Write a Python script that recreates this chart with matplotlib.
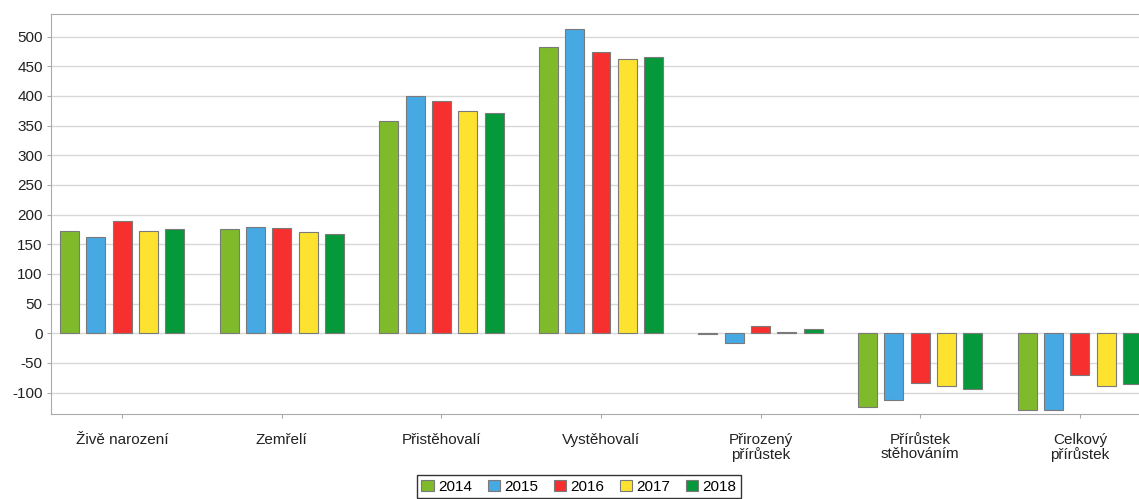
import matplotlib.pyplot as plt
import numpy as np

plt.rcParams['font.family'] = ['Liberation Sans', 'DejaVu Sans']
plt.rcParams['axes.unicode_minus'] = False

categories = ['Živě narození', 'Zemřelí', 'Přistěhovalí', 'Vystěhovalí',
              'Přirozený\npřírůstek', 'Přírůstek\nstěhováním', 'Celkový\npřírůstek']
years = ['2014', '2015', '2016', '2017', '2018']
v2014 = [173, 175, 358, 483, -2, -125, -129]
v2015 = [162, 179, 400, 513, -17, -113, -130]
v2016 = [190, 178, 391, 474, 12, -83, -71]
v2017 = [173, 171, 374, 463, 2, -89, -88]
v2018 = [175, 168, 371, 465, 7, -94, -86]
colors = ['#7fba2b', '#47a9e3', '#f7302f', '#fde330', '#06993b']

series = [v2014, v2015, v2016, v2017, v2018]

fig = plt.figure(figsize=(11.39, 4.99), dpi=100)
ax = fig.add_axes([51/1139, 85/499, 1100/1139, 400/499])

x = np.arange(len(categories))
step = 0.165
for i, (vals, c, yr) in enumerate(zip(series, colors, years)):
    ax.bar(x + (i - 2) * step, vals, width=0.119, color=c, edgecolor='#7a7a7a',
           linewidth=0.8, label=yr, zorder=3)

ax.set_xlim(-0.445, 6.445)
ax.set_ylim(-136, 538)
ax.set_yticks(np.arange(-100, 501, 50))
ax.set_xticks(x)
ax.set_xticklabels(categories, fontsize=11, color='#222222', linespacing=1.0)
ax.tick_params(axis='y', labelsize=11, labelcolor='#222222', length=3, color='#aaaaaa', pad=3)
ax.tick_params(axis='x', length=3, color='#aaaaaa', pad=11)
ax.yaxis.grid(True, color='#d8d8d8', linewidth=1, zorder=0)
for s in ['left', 'bottom', 'top']:
    ax.spines[s].set_color('#aaaaaa')
ax.spines['right'].set_visible(False)

leg = ax.legend(loc='upper center', bbox_to_anchor=(579/1139, 24/499),
                bbox_transform=fig.transFigure, ncol=5, fontsize=11,
                frameon=True, fancybox=False, handlelength=0.8, handleheight=0.8,
                handletextpad=0.3, columnspacing=1.0, borderpad=0.3,
                borderaxespad=0)
leg.get_frame().set_edgecolor('#000000')
leg.get_frame().set_linewidth(1)

fig.savefig('out.png', dpi=100)
